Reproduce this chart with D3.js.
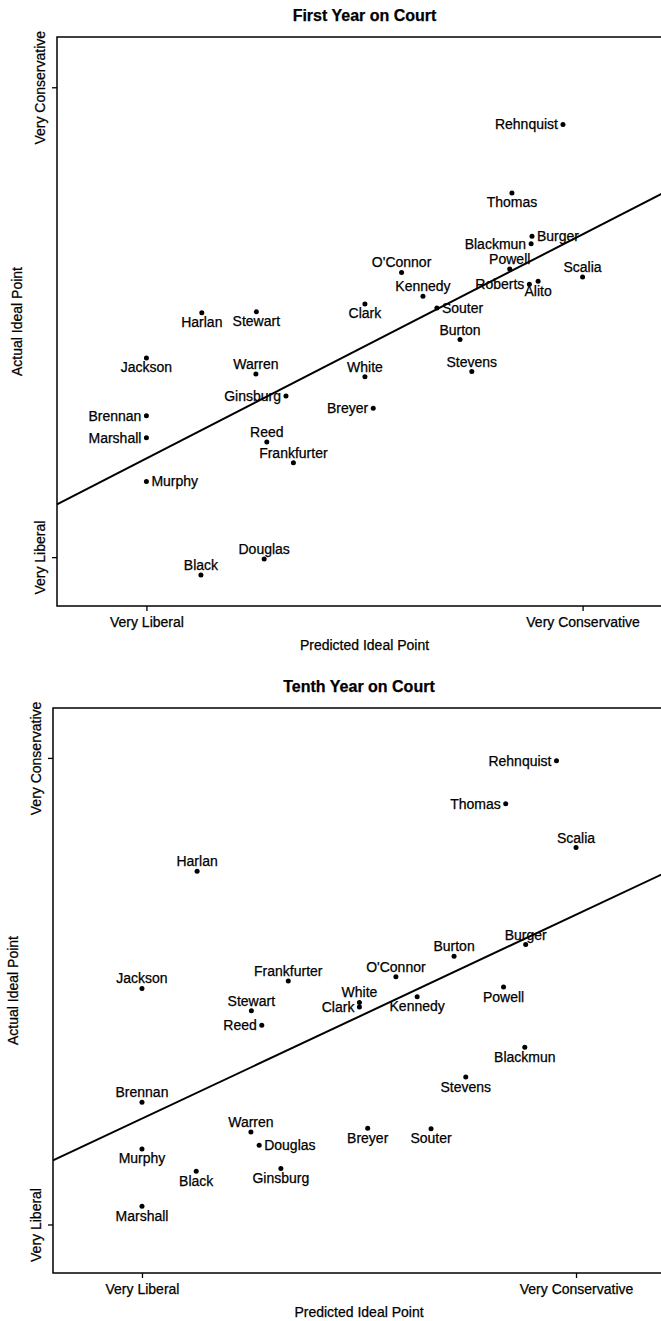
<!DOCTYPE html>
<html>
<head>
<meta charset="utf-8">
<script src="https://cdn.jsdelivr.net/npm/d3@7"></script>
<style>
body { margin: 0; background: #fff; }
svg { display: block; font-family: "Liberation Sans", Arial, Helvetica, sans-serif; }
svg text { stroke: #000; stroke-width: 0.25px; }
</style>
</head>
<body>
<svg></svg>
<script>
// predicted ideal point of each justice (0 = very liberal, 1 = very conservative)
var justices = ["Rehnquist", "Thomas", "Burger", "Blackmun", "Powell", "Scalia", "Roberts", "Alito",
    "O'Connor", "Kennedy", "Souter", "Clark", "Burton", "Stevens", "White", "Breyer",
    "Harlan", "Stewart", "Jackson", "Warren", "Ginsburg", "Brennan", "Marshall", "Reed",
    "Frankfurter", "Murphy", "Douglas", "Black"];
var predicted = [0.955, 0.838, 0.884, 0.882, 0.833, 1.0, 0.878, 0.898,
    0.585, 0.634, 0.666, 0.501, 0.719, 0.746, 0.501, 0.52,
    0.127, 0.252, 0.0, 0.251, 0.32, 0.0, 0.0, 0.276,
    0.337, 0.0, 0.27, 0.125];

// first year on court: actual ideal point and where the name sits
var firstActual = [0.921, 0.775, 0.683, 0.667, 0.613, 0.596, 0.581, 0.587,
    0.606, 0.555, 0.53, 0.539, 0.463, 0.395, 0.384, 0.317,
    0.52, 0.522, 0.424, 0.39, 0.343, 0.301, 0.254, 0.245,
    0.201, 0.161, -0.004, -0.038];
var firstSide = ["left", "below", "right", "left", "above", "above", "left", "below",
    "above", "above", "right", "below", "above", "above", "above", "left",
    "below", "below", "below", "above", "left", "left", "left", "above",
    "above", "right", "above", "above"];
var firstFit = [0.21, 0.477]; // intercept, slope

// tenth year on court
var tenthJustices = ["Rehnquist", "Thomas", "Scalia", "Harlan", "Burger", "Burton", "O'Connor",
    "Frankfurter", "Powell", "Jackson", "Kennedy", "White", "Clark", "Stewart", "Reed",
    "Blackmun", "Stevens", "Brennan", "Breyer", "Souter", "Warren", "Douglas", "Murphy",
    "Ginsburg", "Black", "Marshall"];
var tenthActual = [0.994, 0.902, 0.808, 0.757, 0.6, 0.575, 0.531,
    0.522, 0.509, 0.506, 0.488, 0.476, 0.466, 0.458, 0.427,
    0.38, 0.316, 0.262, 0.206, 0.205, 0.198, 0.17, 0.162,
    0.12, 0.114, 0.039];
var tenthSide = ["left", "left", "above", "above", "above", "above", "above",
    "above", "below", "above", "below", "above", "left", "above", "left",
    "below", "below", "above", "below", "below", "above", "right", "below",
    "below", "below", "below"];
var tenthFit = [0.227, 0.437];

var tickValues = [0, 1];
var tickLabels = ["Very Liberal", "Very Conservative"];

var width = 661;
var height = 1321;

var svg = d3.select("svg")
    .attr("width", width)
    .attr("height", height);

function drawPanel(box, title, names, actual, sides, fit) {
    var g = svg.append("g");

    var x = d3.scaleLinear().domain([-0.205, 1.205]).range([box.left, box.right]);
    var y = d3.scaleLinear().domain([-0.104, 1.107]).range([box.bottom, box.top]);

    var xAxis = d3.axisBottom(x)
        .tickValues(tickValues)
        .tickFormat(function(d, i) { return tickLabels[i]; })
        .tickSize(5)
        .tickPadding(6);
    var yAxis = d3.axisLeft(y)
        .tickValues(tickValues)
        .tickFormat(function(d, i) { return tickLabels[i]; })
        .tickSize(5);

    var gx = g.append("g")
        .attr("transform", "translate(0," + box.bottom + ")")
        .call(xAxis);
    var gy = g.append("g")
        .attr("transform", "translate(" + box.left + ",0)")
        .call(yAxis);

    [gx, gy].forEach(function(a) {
        a.select(".domain").remove();
        a.selectAll("line").attr("stroke", "#000").attr("stroke-width", 1.3);
        a.selectAll("text")
            .attr("fill", "#000")
            .style("font-size", "14px")
            .style("font-family", "\"Liberation Sans\", Arial, sans-serif");
    });

    // rotated y tick labels, centred on the tick
    gy.selectAll(".tick text")
        .attr("transform", "rotate(-90)")
        .attr("x", 0)
        .attr("y", -12)
        .attr("dy", 0)
        .attr("text-anchor", "middle");

    // plot box
    g.append("rect")
        .attr("x", box.left)
        .attr("y", box.top)
        .attr("width", box.right - box.left)
        .attr("height", box.bottom - box.top)
        .attr("fill", "none")
        .attr("stroke", "#000")
        .attr("stroke-width", 1.5);

    var cx = (box.left + box.right) / 2;

    g.append("text")
        .attr("x", cx)
        .attr("y", box.top - 16)
        .attr("text-anchor", "middle")
        .style("font-size", "16px")
        .style("font-weight", "bold")
        .text(title);

    g.append("text")
        .attr("x", cx)
        .attr("y", box.bottom + 44)
        .attr("text-anchor", "middle")
        .style("font-size", "14px")
        .text("Predicted Ideal Point");

    g.append("text")
        .attr("transform", "translate(" + (box.left - 35) + "," + ((box.top + box.bottom) / 2) + ") rotate(-90)")
        .attr("text-anchor", "middle")
        .style("font-size", "14px")
        .text("Actual Ideal Point");

    // fitted line across the whole plot
    var xd = x.domain();
    g.append("line")
        .attr("x1", x(xd[0]))
        .attr("y1", y(fit[0] + fit[1] * xd[0]))
        .attr("x2", x(xd[1]))
        .attr("y2", y(fit[0] + fit[1] * xd[1]))
        .attr("stroke", "#000")
        .attr("stroke-width", 2);

    var pts = names.map(function(n, i) {
        return { name: n, px: predicted[justices.indexOf(n)], ay: actual[i], side: sides[i] };
    });

    g.selectAll("circle")
        .data(pts)
        .enter().append("circle")
        .attr("cx", d => x(d.px))
        .attr("cy", d => y(d.ay))
        .attr("r", 2.5)
        .attr("fill", "#000");

    g.selectAll("text.name")
        .data(pts)
        .enter().append("text")
        .attr("class", "name")
        .attr("x", function(d) {
            if (d.side == "left") return x(d.px) - 5;
            if (d.side == "right") return x(d.px) + 5;
            return x(d.px);
        })
        .attr("y", function(d) {
            if (d.side == "above") return y(d.ay) - 5;
            if (d.side == "below") return y(d.ay) + 14.5;
            return y(d.ay) + 5;
        })
        .attr("text-anchor", function(d) {
            if (d.side == "left") return "end";
            if (d.side == "right") return "start";
            return "middle";
        })
        .style("font-size", "14px")
        .text(d => d.name);
}

drawPanel({ left: 57, right: 672, top: 37, bottom: 606 }, "First Year on Court",
    justices, firstActual, firstSide, firstFit);
drawPanel({ left: 53, right: 665, top: 708, bottom: 1273 }, "Tenth Year on Court",
    tenthJustices, tenthActual, tenthSide, tenthFit);
</script>
</body>
</html>
